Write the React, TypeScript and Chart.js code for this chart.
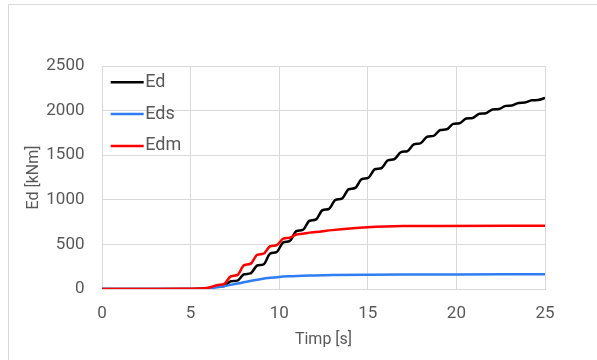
import React, { useEffect, useRef } from "react";
import { Chart, registerables } from "chart.js";

Chart.register(...registerables);

// Time axis [s] and energies [kNm]
const edTime = [0, 3, 4.5, 5.5, 6.0, 6.54, 6.9, 7.28, 7.64, 8.02, 8.38, 8.76, 9.12, 9.49, 9.85, 10.23, 10.59, 10.97, 11.33, 11.71, 12.07, 12.44, 12.8, 13.18, 13.54, 13.92, 14.28, 14.66, 15.02, 15.4, 15.76, 16.13, 16.49, 16.87, 17.23, 17.61, 17.97, 18.35, 18.71, 19.09, 19.45, 19.82, 20.18, 20.56, 20.92, 21.3, 21.66, 22.04, 22.4, 22.78, 23.14, 23.51, 23.87, 24.25, 24.61, 25.0];
const edValues = [0, 0, 1, 3, 8, 27, 33, 86, 94, 165, 175, 263, 277, 397, 413, 522, 538, 648, 662, 765, 779, 883, 897, 999, 1013, 1118, 1132, 1232, 1246, 1342, 1354, 1442, 1454, 1535, 1545, 1623, 1633, 1707, 1717, 1782, 1790, 1851, 1859, 1912, 1918, 1965, 1971, 2012, 2018, 2053, 2057, 2086, 2090, 2115, 2119, 2142];

const edsTime = [0, 4.5, 5.5, 6, 6.5, 7, 7.5, 8, 8.5, 9, 9.5, 10, 10.5, 11, 12, 13, 15, 17, 20, 25];
const edsValues = [0, 1, 4, 10, 20, 36, 55, 75, 95, 112, 125, 135, 142, 147, 152, 156, 160, 162, 163, 165];

const edmTime = [0, 3, 4.5, 5.5, 6.0, 6.54, 6.9, 7.28, 7.64, 8.02, 8.38, 8.76, 9.12, 9.49, 9.85, 10.23, 10.59, 10.97, 11.33, 11.71, 12.07, 13, 14, 15, 16, 17, 19, 25];
const edmValues = [0, 0, 2, 6, 15, 46, 58, 143, 157, 267, 283, 383, 397, 479, 491, 565, 575, 611, 619, 632, 638, 660, 679, 693, 701, 705, 707, 708];

const seriesNames = ["Ed", "Eds", "Edm"];
const seriesColors = ["#000000", "#2f7df2", "#ff0000"];

const xTicks = [0, 5, 10, 15, 20, 25];
const yTicks = [0, 500, 1000, 1500, 2000, 2500];

const xTitle = "Timp [s]";
const yTitle = "Ed [kNm]";

const FONT = "Roboto, 'Liberation Sans', Arial, sans-serif";
const TEXT = "#595959";
const GRID = "#d9d9d9";

const toPoints = (t: number[], v: number[]) => t.map((x, i) => ({ x, y: v[i] }));

const insideLegend = {
  id: "insideLegend",
  afterDraw(chart: any) {
    const { ctx, chartArea } = chart;
    ctx.save();
    chart.data.datasets.forEach((ds: any, i: number) => {
      const y = chartArea.top + 16.3 + i * 31.8;
      const x0 = chartArea.left + 8.7;
      ctx.strokeStyle = ds.borderColor;
      ctx.lineWidth = 2.5;
      ctx.lineCap = "butt";
      ctx.beginPath();
      ctx.moveTo(x0, y);
      ctx.lineTo(x0 + 33, y);
      ctx.stroke();
      ctx.fillStyle = TEXT;
      ctx.font = `18px ${FONT}`;
      ctx.textBaseline = "middle";
      ctx.textAlign = "left";
      ctx.fillText(ds.label, x0 + 34.5, y);
    });
    ctx.restore();
  },
};

export default function App() {
  const ref = useRef<HTMLCanvasElement | null>(null);

  useEffect(() => {
    if (!ref.current) return;
    const series = [
      toPoints(edTime, edValues),
      toPoints(edsTime, edsValues),
      toPoints(edmTime, edmValues),
    ];
    const chart = new Chart(ref.current, {
      type: "line",
      data: {
        datasets: series.map((data, i) => ({
          label: seriesNames[i],
          data,
          borderColor: seriesColors[i],
          backgroundColor: seriesColors[i],
          borderWidth: 2.5,
          pointRadius: 0,
          pointHoverRadius: 0,
          cubicInterpolationMode: "monotone" as const,
          borderJoinStyle: "round" as const,
          fill: false,
          order: 2 - i,
        })),
      },
      options: {
        responsive: false,
        animation: false,
        events: [],
        layout: { padding: { left: 0, top: 66, right: 52, bottom: 0 } },
        plugins: {
          legend: { display: false },
          tooltip: { enabled: false },
          title: { display: false },
        },
        scales: {
          x: {
            type: "linear",
            min: 0,
            max: 25,
            afterBuildTicks: (s: any) => {
              s.ticks = xTicks.map((v) => ({ value: v }));
            },
            afterFit: (s: any) => {
              s.height = 71;
            },
            ticks: {
              color: TEXT,
              font: { family: FONT, size: 17 },
              padding: 15,
              maxRotation: 0,
              callback: (v: any) => String(v),
            },
            grid: { color: GRID, lineWidth: 1, drawTicks: false },
            border: { display: true, color: GRID },
            title: {
              display: true,
              text: xTitle,
              color: TEXT,
              font: { family: FONT, size: 16 },
              padding: { top: 0, bottom: 10 },
            },
          },
          y: {
            type: "linear",
            min: 0,
            max: 2500,
            afterBuildTicks: (s: any) => {
              s.ticks = yTicks.map((v) => ({ value: v }));
            },
            afterFit: (s: any) => {
              s.width = 102;
            },
            ticks: {
              color: TEXT,
              font: { family: FONT, size: 17 },
              padding: 17.5,
              callback: (v: any) => String(v),
            },
            grid: { color: GRID, lineWidth: 1, drawTicks: false },
            border: { display: true, color: GRID },
            title: {
              display: true,
              text: yTitle,
              color: TEXT,
              font: { family: FONT, size: 16 },
              padding: { top: 24, bottom: 0 },
            },
          },
        },
      },
      plugins: [insideLegend],
    });
    return () => chart.destroy();
  }, []);

  return (
    <div
      style={{
        position: "absolute",
        left: 0,
        top: 0,
        width: 597,
        height: 360,
        overflow: "hidden",
        background: "#ffffff",
      }}
    >
      <div
        style={{
          position: "absolute",
          left: 8,
          top: 4,
          width: 640,
          height: 420,
          border: `1px solid ${GRID}`,
          boxSizing: "border-box",
        }}
      />
      <canvas
        ref={ref}
        width={597}
        height={360}
        style={{ position: "absolute", left: 0, top: 0, width: 597, height: 360 }}
      />
    </div>
  );
}
